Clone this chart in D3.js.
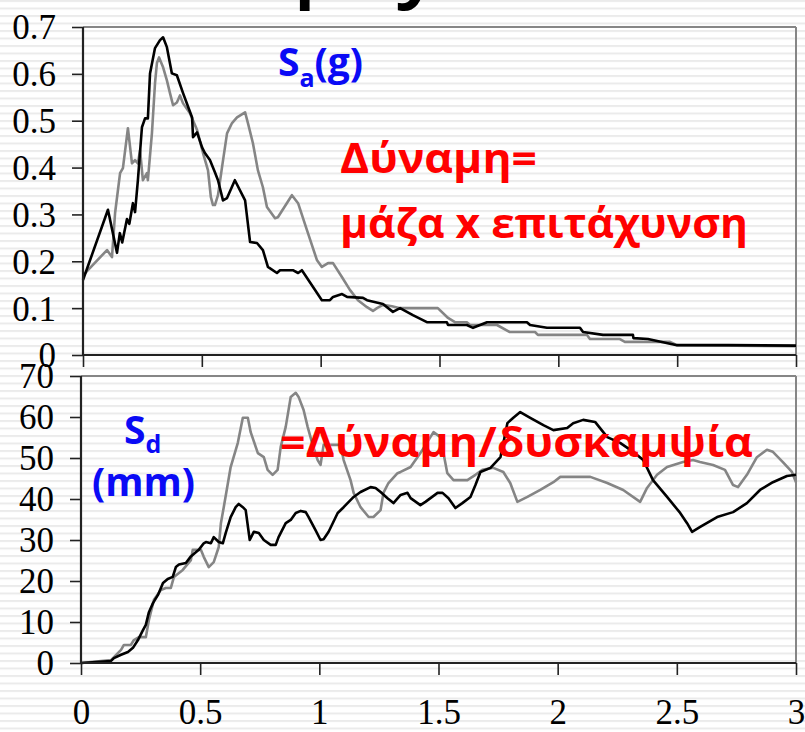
<!DOCTYPE html>
<html>
<head>
<meta charset="utf-8">
<script src="https://cdn.jsdelivr.net/npm/d3@7"></script>
<style>
  html, body { margin: 0; padding: 0; background: #fff; }
  svg { display: block; }
</style>
</head>
<body>
<svg id="chart" width="805" height="732"></svg>
<script>
// ---------- DATA ----------
// Top panel: spectral acceleration Sa (g) vs period T (s)
const topBlackT  = [0,0.105,0.143,0.155,0.165,0.185,0.195,0.21,0.219,0.231,0.248,0.261,0.273,0.282,0.303,0.324,0.337,0.353,0.374,0.395,0.421,0.459,0.463,0.48,0.501,0.513,0.534,0.555,0.568,0.589,0.606,0.639,0.682,0.703,0.732,0.757,0.778,0.816,0.829,0.883,0.905,0.921,0.968,1.005,1.039,1.052,1.09,1.111,1.178,1.195,1.262,1.304,1.334,1.388,1.447,1.531,1.536,1.615,1.641,1.7,1.868,1.881,1.952,2.091,2.104,2.188,2.314,2.316,2.377,2.499,2.714,3.0];
const topBlackSa = [0.16,0.31,0.218,0.26,0.24,0.29,0.28,0.324,0.305,0.373,0.486,0.505,0.505,0.601,0.655,0.672,0.678,0.657,0.601,0.597,0.559,0.507,0.465,0.475,0.443,0.431,0.416,0.39,0.373,0.33,0.335,0.373,0.33,0.241,0.239,0.224,0.188,0.175,0.181,0.181,0.175,0.181,0.145,0.117,0.117,0.124,0.13,0.124,0.122,0.117,0.109,0.092,0.1,0.085,0.07,0.07,0.064,0.064,0.058,0.07,0.07,0.064,0.058,0.058,0.049,0.043,0.043,0.036,0.034,0.021,0.021,0.02];

const topGrayT  = [0,0.101,0.122,0.135,0.156,0.168,0.189,0.206,0.219,0.231,0.24,0.252,0.269,0.273,0.29,0.303,0.311,0.32,0.337,0.353,0.366,0.379,0.395,0.408,0.421,0.45,0.48,0.505,0.526,0.538,0.547,0.555,0.568,0.585,0.606,0.627,0.648,0.682,0.694,0.715,0.736,0.757,0.774,0.808,0.82,0.879,0.905,0.942,0.984,1.005,1.031,1.052,1.09,1.123,1.157,1.195,1.22,1.237,1.262,1.3,1.334,1.493,1.536,1.565,1.615,1.628,1.742,1.796,1.902,1.914,2.12,2.133,2.259,2.28,2.47,2.499,3.0];
const topGraySa = [0.17,0.224,0.209,0.303,0.388,0.399,0.484,0.409,0.416,0.409,0.437,0.373,0.388,0.373,0.473,0.58,0.623,0.635,0.614,0.586,0.559,0.533,0.539,0.554,0.537,0.516,0.48,0.431,0.394,0.337,0.32,0.32,0.341,0.401,0.473,0.495,0.507,0.518,0.495,0.452,0.394,0.358,0.316,0.292,0.294,0.341,0.324,0.267,0.203,0.188,0.196,0.196,0.166,0.139,0.117,0.102,0.094,0.1,0.107,0.104,0.1,0.1,0.079,0.07,0.07,0.064,0.064,0.049,0.049,0.043,0.043,0.034,0.034,0.028,0.028,0.021,0.019];

// Bottom panel: spectral displacement Sd (mm) vs period T (s)
const botBlackT  = [0,0.126,0.138,0.168,0.197,0.218,0.239,0.26,0.272,0.285,0.302,0.323,0.344,0.364,0.385,0.398,0.411,0.44,0.461,0.494,0.515,0.524,0.545,0.557,0.578,0.595,0.607,0.628,0.649,0.662,0.679,0.691,0.704,0.708,0.725,0.746,0.767,0.796,0.817,0.829,0.859,0.88,0.901,0.922,0.943,0.955,0.984,1.005,1.018,1.039,1.077,1.102,1.144,1.173,1.215,1.236,1.257,1.286,1.311,1.341,1.37,1.383,1.424,1.445,1.496,1.517,1.542,1.571,1.6,1.634,1.655,1.676,1.718,1.76,1.789,1.814,1.843,1.885,1.94,1.982,2.04,2.065,2.107,2.157,2.208,2.262,2.317,2.359,2.4,2.459,2.514,2.543,2.564,2.598,2.669,2.736,2.794,2.849,2.903,2.962,3.0];
const botBlackSd = [0,0.5,1.2,2,2.7,3.7,5.6,8,9.3,12.4,14.6,16.6,19.5,20.5,21,23.4,24,24.4,26,27.6,29.2,29.5,29.2,30.7,29.5,29.2,31.7,35.6,38,38.8,38,37.3,31.7,30,32,31.7,30,28.8,28.8,30.7,34.1,34.9,36.6,37.1,36.8,35.6,32.4,30,30.2,32,36.6,38,40.5,41.7,42.9,42.7,41.7,40.2,39,41,41.5,40.2,38.5,39.3,41.5,41.5,40.2,37.8,39,40.5,43.4,46.6,47.6,50.2,58.5,59.8,61.2,59.8,58,56.8,57.3,58.5,59.3,58.8,55.1,53.7,51.5,49.5,44.6,40.5,36.6,34.1,32,33.2,35.6,36.8,39,42.2,44.1,45.6,45.9];

const botGrayT  = [0,0.126,0.168,0.18,0.209,0.222,0.243,0.272,0.285,0.306,0.335,0.356,0.377,0.39,0.427,0.461,0.469,0.503,0.515,0.536,0.557,0.578,0.587,0.599,0.628,0.658,0.679,0.7,0.712,0.742,0.767,0.783,0.804,0.825,0.838,0.859,0.88,0.901,0.913,0.934,0.951,0.972,0.993,1.005,1.018,1.089,1.102,1.131,1.144,1.173,1.207,1.227,1.257,1.269,1.29,1.328,1.341,1.383,1.424,1.479,1.508,1.537,1.563,1.621,1.655,1.684,1.73,1.772,1.801,1.831,1.873,1.927,1.982,2.011,2.137,2.208,2.275,2.346,2.375,2.417,2.459,2.526,2.568,2.597,2.652,2.702,2.736,2.757,2.794,2.836,2.878,2.903,2.945,2.983,3.0];
const botGraySd = [0,0.7,3.2,4.4,4.4,5.6,6.3,6.3,10.5,15.4,17.8,18.3,18.3,21,22.7,25.1,27.6,27.6,25.9,23.4,24.6,28.3,34.1,38,47.8,53.7,59.8,59.8,56.3,51.2,50.2,47.1,45.9,47.1,52.7,57.6,64.9,65.9,64.9,61.7,57.6,53.2,49.5,48.3,53.2,53.2,49.5,44.6,41.5,38,35.6,35.6,37.3,41.5,43.9,46.3,46.6,47.8,51.2,56.3,55.1,46.3,44.6,44.6,45.9,47.1,47.6,46.6,43.9,39.3,40.5,42.2,44.1,45.4,45.4,43.9,42.2,39.3,42.7,45.9,47.8,49,49.5,49,48.3,47.1,43.4,42.9,45.9,50.2,52,51.5,49,46.6,44.1];

const xTicks = [0, 0.5, 1, 1.5, 2, 2.5, 3];
const xTickLabels = ["0", "0.5", "1", "1.5", "2", "2.5", "3"];
const topYTicks = [0, 0.1, 0.2, 0.3, 0.4, 0.5, 0.6, 0.7];
const topYTickLabels = ["0", "0.1", "0.2", "0.3", "0.4", "0.5", "0.6", "0.7"];
const botYTicks = [0, 10, 20, 30, 40, 50, 60, 70];
const botYTickLabels = ["0", "10", "20", "30", "40", "50", "60", "70"];

// ---------- DRAW ----------
const svg = d3.select("#chart");
const defs = svg.append("defs");
const pat = defs.append("pattern").attr("id", "stripes")
  .attr("patternUnits", "userSpaceOnUse").attr("width", 20).attr("height", 7.5);
pat.append("rect").attr("width", 20).attr("height", 7.5).attr("fill", "#ffffff");
pat.append("rect").attr("y", 0).attr("width", 20).attr("height", 2).attr("fill", "#ebebeb");
svg.append("rect").attr("width", 805).attr("height", 732).attr("fill", "url(#stripes)");

const numFont = "'Liberation Serif', 'Times New Roman', serif";
const sansFont = "'Open Sans', 'Noto Sans', sans-serif";

// cut-off slide title above the chart: only its descenders remain visible
svg.append("text").attr("x", 293).attr("y", -9).attr("font-family", sansFont)
  .attr("font-weight", 600).attr("font-size", 84).attr("fill", "#000").text("p");
svg.append("text").attr("x", 396).attr("y", -9).attr("font-family", sansFont)
  .attr("font-weight", 600).attr("font-size", 84).attr("fill", "#000").text("y");

function panel(cfg) {
  const x = d3.scaleLinear().domain([0, 3]).range([cfg.left, cfg.right]);
  const y = d3.scaleLinear().domain([0, cfg.ymax]).range([cfg.bottom, cfg.top]);
  const g = svg.append("g");

  // frame: gray top & right
  g.append("line").attr("x1", cfg.left).attr("x2", cfg.right).attr("y1", cfg.top).attr("y2", cfg.top)
    .attr("stroke", "#868686").attr("stroke-width", 2);
  g.append("line").attr("x1", cfg.right).attr("x2", cfg.right).attr("y1", cfg.top).attr("y2", cfg.bottom)
    .attr("stroke", "#868686").attr("stroke-width", 2);

  const line = d3.line().x(d => x(d[0])).y(d => y(d[1]));
  cfg.series.forEach(s => {
    g.append("path").datum(s.t.map((t, i) => [t, s.v[i]]))
      .attr("d", line).attr("fill", "none").attr("stroke", s.color)
      .attr("stroke-width", 2.6).attr("stroke-linejoin", "round");
  });

  // y axis
  const ya = g.append("g").attr("transform", `translate(${cfg.left},0)`)
    .call(d3.axisLeft(y).tickValues(cfg.yTicks).tickSize(11).tickPadding(16)
      .tickFormat((d, i) => cfg.yLabels[i]));
  // x axis
  const xa = g.append("g").attr("transform", `translate(0,${cfg.bottom})`)
    .call(d3.axisBottom(x).tickValues(xTicks).tickSize(12).tickPadding(26)
      .tickFormat((d, i) => cfg.xLabels ? xTickLabels[i] : ""));
  [ya, xa].forEach(a => {
    a.select(".domain").attr("stroke", "#222").attr("stroke-width", 2.2);
    a.selectAll(".tick line").attr("stroke", "#222").attr("stroke-width", 1.6);
    a.selectAll("text").attr("font-family", numFont).attr("font-size", 35).attr("fill", "#000");
  });
  ya.select(".domain").attr("d", `M-0,${cfg.bottom}V${cfg.top}`);
  xa.select(".domain").attr("d", `M${cfg.left},0H${cfg.right}`);
  ya.selectAll("text").attr("dy", "0.34em");
  xa.selectAll("text").attr("dy", "0.66em");
  return { x, y, g };
}

panel({
  left: 83, right: 796, top: 27, bottom: 355, ymax: 0.7,
  yTicks: topYTicks, yLabels: topYTickLabels, xLabels: false,
  series: [
    { t: topGrayT, v: topGraySa, color: "#858585" },
    { t: topBlackT, v: topBlackSa, color: "#000000" }
  ]
});
panel({
  left: 81, right: 796, top: 376, bottom: 663, ymax: 70,
  yTicks: botYTicks, yLabels: botYTickLabels, xLabels: true,
  series: [
    { t: botGrayT, v: botGraySd, color: "#858585" },
    { t: botBlackT, v: botBlackSd, color: "#000000" }
  ]
});

// ---------- ANNOTATIONS ----------
const blue = "#0a0af5", red = "#ff0000";
function label(x, y, txt, color, size, len) {
  const t = svg.append("text").attr("x", x).attr("y", y).attr("font-family", sansFont)
    .attr("font-weight", 700).attr("font-size", size).attr("fill", color).text(txt);
  if (len) t.attr("textLength", len).attr("lengthAdjust", "spacingAndGlyphs");
  return t;
}
// Sa(g)
const sa = svg.append("text").attr("x", 278).attr("y", 76).attr("font-family", sansFont)
  .attr("font-weight", 700).attr("font-size", 39).attr("fill", blue);
sa.append("tspan").text("S");
sa.append("tspan").attr("font-size", 25).attr("dy", 11).text("a");
sa.append("tspan").attr("dy", -11).text("(g)");
// Sd (mm)
const sd = svg.append("text").attr("x", 124).attr("y", 444).attr("font-family", sansFont)
  .attr("font-weight", 700).attr("font-size", 39).attr("fill", blue);
sd.append("tspan").text("S");
sd.append("tspan").attr("font-size", 25).attr("dy", 9).text("d");
label(92, 496, "(mm)", blue, 39, 103);

label(340, 173, "Δύναμη=", red, 41, 197);
label(340, 238, "μάζα x επιτάχυνση", red, 41, 408);
label(280, 457, "=Δύναμη/δυσκαμψία", red, 41, 473);
</script>
</body>
</html>
